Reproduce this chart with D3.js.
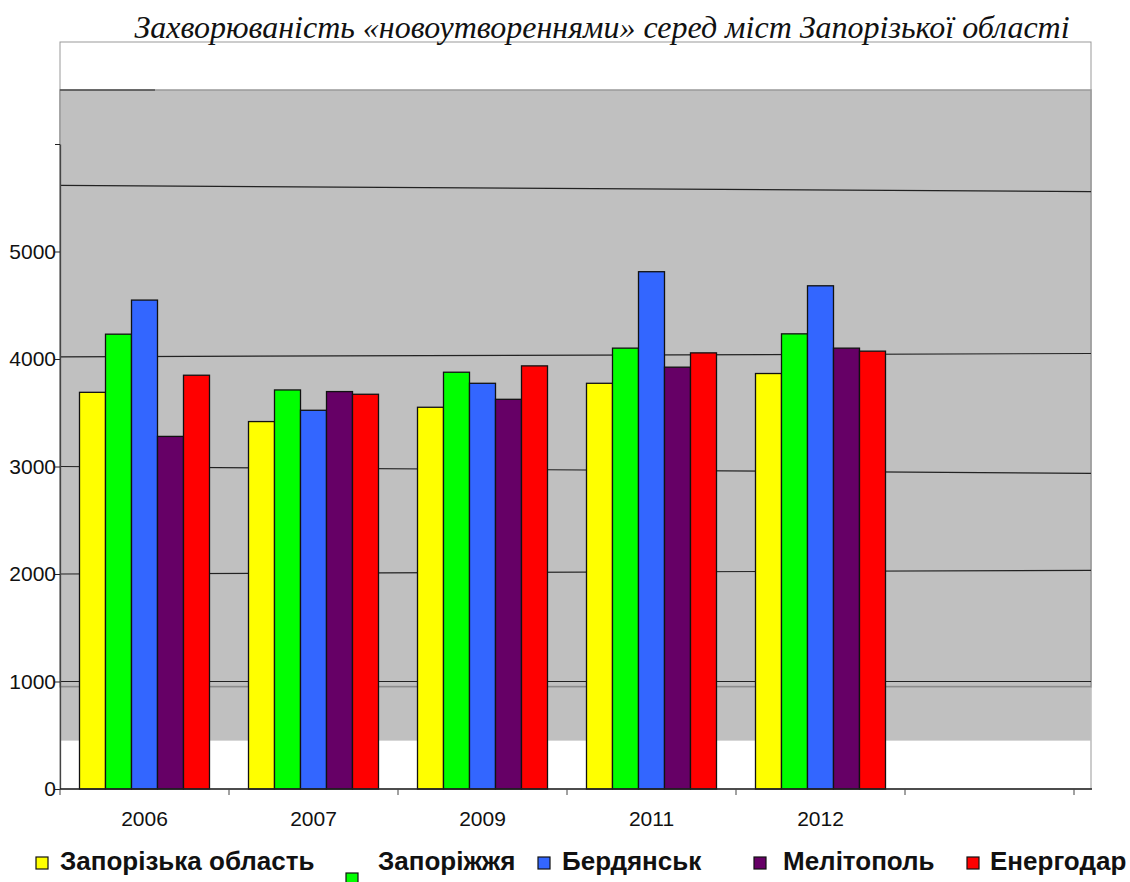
<!DOCTYPE html>
<html>
<head>
<meta charset="utf-8">
<script src="https://cdn.jsdelivr.net/npm/d3@7"></script>
<style>
  body { margin: 0; background: #fff; }
  svg { display: block; }
</style>
</head>
<body>
<script>
// data
let years = ['2006', '2007', '2009', '2011', '2012', '']
let cities = ['Запорізька область', 'Запоріжжя', 'Бердянськ', 'Мелітополь', 'Енергодар']
let colors = ['#ffff00', '#00ff00', '#3366ff', '#660066', '#ff0000']
let zapObl = [3690, 3418, 3551, 3774, 3865]
let zapCity = [4231, 3712, 3877, 4101, 4234]
let berd = [4548, 3523, 3774, 4812, 4681]
let melit = [3280, 3697, 3625, 3924, 4101]
let energ = [3849, 3672, 3936, 4057, 4073]
let yTicks = [0, 1000, 2000, 3000, 4000, 5000, 6000]
let yTickLabels = ['0', '1000', '2000', '3000', '4000', '5000', '']
// odd tilted grid lines (value at left edge, value at right edge)
let gridLeft = [1000, 2000, 3000, 4020, 5615]
let gridRight = [1000, 2034, 2936, 4051, 5557]
let title = 'Захворюваність «новоутвореннями» серед міст Запорізької області'

let width = 1130
let height = 882
let svg = d3.select('body').append('svg').attr('width', width).attr('height', height)

let x = d3.scaleBand().domain(years).range([60, 1074])
let x1 = d3.scaleBand().domain(cities).range([19.5, x.bandwidth() - 19.5])
let y = d3.scaleLinear().domain([0, 6000]).range([789, 144])

let series = [zapObl, zapCity, berd, melit, energ]

// plot frame + grey wall
svg.append('rect')
   .attr('x', 60).attr('y', 42).attr('width', 1031).attr('height', 747)
   .attr('fill', '#fff').attr('stroke', '#999').attr('stroke-width', 1)
svg.append('rect')
   .attr('x', 60).attr('y', 90).attr('width', 1031).attr('height', y(450) - 90)
   .attr('fill', '#c0c0c0')
svg.append('rect')
   .attr('x', 60).attr('y', 90).attr('width', 1031).attr('height', y(950) - 90)
   .attr('fill', 'none').attr('stroke', '#999').attr('stroke-width', 1.5)
svg.append('line')
   .attr('x1', 60).attr('x2', 155).attr('y1', 90).attr('y2', 90)
   .attr('stroke', '#222').attr('stroke-width', 1)

// grid lines
svg.selectAll('.grid')
   .data(gridLeft)
   .enter()
   .append('line')
   .attr('class', 'grid')
   .attr('x1', 60).attr('x2', 1091)
   .attr('y1', (d) => y(d))
   .attr('y2', (d, i) => y(gridRight[i]))
   .attr('stroke', '#222').attr('stroke-width', 1.2)
svg.append('line')
   .attr('x1', 60).attr('x2', 1091)
   .attr('y1', y(955)).attr('y2', y(955))
   .attr('stroke', '#888').attr('stroke-width', 1)

// bars
years.slice(0, 5).forEach((yr, gi) => {
   svg.append('g')
      .attr('transform', 'translate(' + x(yr) + ',0)')
      .selectAll('rect')
      .data(cities)
      .enter()
      .append('rect')
      .attr('x', (c) => x1(c))
      .attr('y', (c, ci) => y(series[ci][gi]))
      .attr('width', x1.bandwidth())
      .attr('height', (c, ci) => y(0) - y(series[ci][gi]))
      .attr('fill', (c, ci) => colors[ci])
      .attr('stroke', '#111')
      .attr('stroke-width', 1.3)
})

// y axis
let yAxis = d3.axisLeft(y).tickValues(yTicks).tickSize(5).tickSizeOuter(0)
   .tickFormat((d, i) => yTickLabels[i])
let gy = svg.append('g').attr('transform', 'translate(60,0)').call(yAxis)
gy.select('.domain').attr('stroke', '#444').attr('stroke-width', 1.3)
gy.selectAll('.tick line').attr('stroke', '#222')
gy.selectAll('text')
   .attr('font-family', 'Liberation Sans, Arial, sans-serif')
   .attr('font-size', 21).attr('fill', '#111').attr('dx', 4)

// x axis
let xAxis = d3.axisBottom(x).tickSize(0).tickSizeOuter(0)
let gx = svg.append('g').attr('transform', 'translate(0,789)').call(xAxis)
gx.select('.domain').remove()
gx.append('line').attr('x1', 60).attr('x2', 1092).attr('stroke', '#222').attr('stroke-width', 1.3)
gx.selectAll('.bound')
   .data(d3.range(years.length + 1))
   .enter()
   .append('line')
   .attr('class', 'bound')
   .attr('x1', (d) => 60 + d * x.step()).attr('x2', (d) => 60 + d * x.step())
   .attr('y1', 0).attr('y2', 6)
   .attr('stroke', '#444')
gx.selectAll('text')
   .attr('font-family', 'Liberation Sans, Arial, sans-serif')
   .attr('font-size', 21).attr('fill', '#111').attr('dy', 34)

// title
svg.append('text')
   .attr('x', 602).attr('y', 38)
   .attr('text-anchor', 'middle')
   .attr('font-family', 'Liberation Serif, Times New Roman, serif')
   .attr('font-style', 'italic')
   .attr('font-size', 32)
   .attr('fill', '#111')
   .text(title)

// legend
let legendX = [36, 346, 538, 754, 967]
let legendDy = [0, 16, 0, 0, 0]
let textX = [60, 378, 562, 783, 990]
let lg = svg.append('g')
lg.selectAll('rect')
   .data(cities)
   .enter()
   .append('rect')
   .attr('x', (d, i) => legendX[i])
   .attr('y', (d, i) => 857 + legendDy[i])
   .attr('width', 12).attr('height', 12)
   .attr('fill', (d, i) => colors[i])
   .attr('stroke', '#111').attr('stroke-width', 1.2)
lg.selectAll('text')
   .data(cities)
   .enter()
   .append('text')
   .attr('x', (d, i) => textX[i])
   .attr('y', 870)
   .attr('font-family', 'Liberation Sans, Arial, sans-serif')
   .attr('font-weight', 'bold')
   .attr('font-size', 26)
   .attr('fill', '#111')
   .text((d) => d)
</script>
</body>
</html>
